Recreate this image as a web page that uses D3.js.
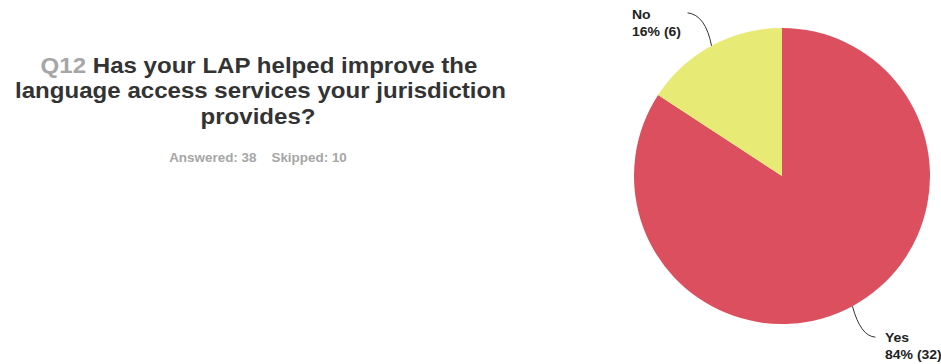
<!DOCTYPE html>
<html>
<head>
<meta charset="utf-8">
<script src="https://cdn.jsdelivr.net/npm/d3@7/dist/d3.min.js"></script>
<style>
  html, body { margin: 0; padding: 0; background: #fff; }
  svg { display: block; font-family: "Liberation Sans", Arial, Helvetica, sans-serif; }
</style>
</head>
<body>
<svg id="chart" width="941" height="364"></svg>
<script>
// Survey question and response summary
const questionNumber = "Q12";
const questionLines = ["Has your LAP helped improve the", "language access services your jurisdiction", "provides?"];
const answered = 38;
const skipped = 10;

// Response categories and counts
const categories = ["Yes", "No"];
const counts = [32, 6];
const colors = ["#db4f5e", "#e7ea74"];

// Text is set slightly wide
const stretch = 1.12;

const svg = d3.select("#chart");

// Places a text element at (x, y) with horizontal widening
function wideText(parent, x, y) {
  return parent.append("text")
    .attr("transform", `translate(${x},${y}) scale(${stretch},1)`)
    .attr("x", 0).attr("y", 0);
}

// ---- Title block ----
const titleX = 259;
const title = svg.append("g").attr("text-anchor", "middle")
  .style("font-weight", "bold").style("font-size", "21.5px");

const line1 = wideText(title, titleX, 72.5);
line1.append("tspan").attr("fill", "#a6a6a6").text(questionNumber + " ");
line1.append("tspan").attr("fill", "#333333").text(questionLines[0]);
questionLines.slice(1).forEach((t, i) => {
  wideText(title, titleX + (i === 0 ? 1.5 : -1), 98 + i * 25.5)
    .attr("fill", "#333333").text(t);
});

wideText(svg, 258, 162)
  .attr("text-anchor", "middle")
  .attr("fill", "#a6a6a6")
  .style("font-weight", "bold").style("font-size", "12px")
  .attr("xml:space", "preserve")
  .text(`Answered: ${answered}    Skipped: ${skipped}`);

// ---- Pie ----
const cx = 782, cy = 176, radius = 148;
const total = d3.sum(counts);
const data = categories.map((c, i) => ({ category: c, count: counts[i], color: colors[i] }));

const pie = d3.pie().value(d => d.count).sort(null);
const arc = d3.arc().innerRadius(0).outerRadius(radius);
const arcs = pie(data);

const g = svg.append("g").attr("transform", `translate(${cx},${cy})`);
g.selectAll("path.slice")
  .data(arcs)
  .join("path")
  .attr("class", "slice")
  .attr("d", arc)
  .attr("fill", d => d.data.color);

// ---- Labels with curved leader lines ----
const labelPos = {
  Yes: [103, 166],
  No:  [-150, -157]
};

arcs.forEach(d => {
  const mid = (d.startAngle + d.endAngle) / 2;
  const p0 = [Math.sin(mid) * radius, -Math.cos(mid) * radius];
  const lp = labelPos[d.data.category];
  const pct = Math.round(d.data.count / total * 100);
  let p2, ctrl;
  if (d.data.category === "Yes") {
    p2 = [p0[0] + 23, p0[1] + 31];
    ctrl = [p0[0] + 8, p0[1] + 30];
  } else {
    p2 = [p0[0] - 24, p0[1] - 33];
    ctrl = [p0[0] - 6, p0[1] - 31];
  }
  const path = d3.path();
  path.moveTo(p0[0], p0[1]);
  path.quadraticCurveTo(ctrl[0], ctrl[1], p2[0], p2[1]);
  g.append("path")
    .attr("d", path.toString())
    .attr("fill", "none")
    .attr("stroke", "#333")
    .attr("stroke-width", 1);

  const lbl = g.append("g")
    .attr("fill", "#222")
    .style("font-weight", "bold").style("font-size", "12.5px");
  wideText(lbl, lp[0], lp[1]).text(d.data.category);
  wideText(lbl, lp[0], lp[1] + 17).text(`${pct}% (${d.data.count})`);
});
</script>
</body>
</html>
